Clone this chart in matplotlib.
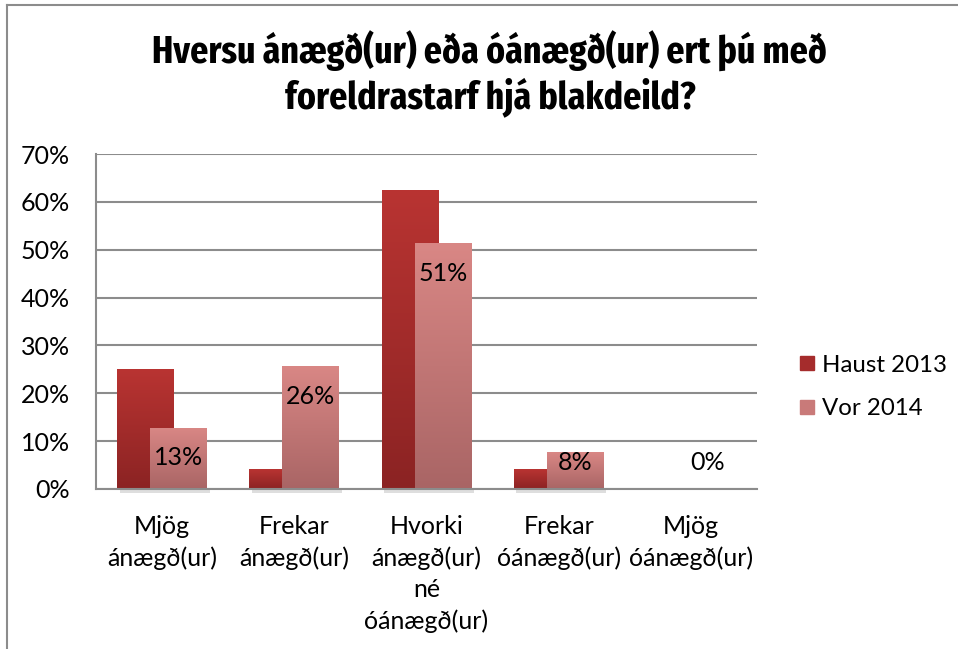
import matplotlib.pyplot as plt
import numpy as np
from matplotlib.colors import LinearSegmentedColormap
from matplotlib.lines import Line2D
from matplotlib import font_manager as fm

categories = ['Mjög\nánægð(ur)', 'Frekar\nánægð(ur)', 'Hvorki\nánægð(ur)\nné\nóánægð(ur)',
              'Frekar\nóánægð(ur)', 'Mjög\nóánægð(ur)']
haust_2013 = [25.0, 4.17, 62.5, 4.17, 0.0]
vor_2014 = [12.8, 25.6, 51.3, 7.7, 0.0]
vor_labels = ['13%', '26%', '51%', '8%', '0%']
series_names = ['Haust 2013', 'Vor 2014']
yticks = [0, 10, 20, 30, 40, 50, 60, 70]

title = 'Hversu ánægð(ur) eða óánægð(ur) ert þú með\nforeldrastarf hjá blakdeild?'

plt.rcParams['font.family'] = ['Lato', 'DejaVu Sans']


def pick_condensed_bold():
    # look for a narrow bold face, the title in the original is very condensed
    best, best_rank = None, 99
    for f in fm.fontManager.ttflist:
        fn = f.fname.replace(' ', '')
        w = f.weight if isinstance(f.weight, int) else 700 if 'bold' in str(f.weight) else 400
        if w < 600 or 'Italic' in fn or 'Mono' in fn or 'Serif' in fn:
            continue
        if 'ExtraCondensedBold' in fn or 'ExtraCondensed-Bold' in fn:
            rank = 0
        elif 'SemiCondensed' in fn:
            rank = 3
        elif 'Condensed' in fn or 'Narrow' in fn or f.stretch == 'condensed':
            rank = 1 if 'Bold' in fn and 'ExtraBold' not in fn and 'SemiBold' not in fn else 2
        else:
            continue
        if rank < best_rank:
            best, best_rank = f.fname, rank
    if best:
        return fm.FontProperties(fname=best)
    return fm.FontProperties(family='DejaVu Sans', weight='bold')


fig = plt.figure(figsize=(9.58, 6.49), dpi=100)
# outer chart border (only top and left visible in the crop)
fig.add_artist(Line2D([7/958, 7/958], [0, 1 - 5/649], transform=fig.transFigure, color='#8c8c8c', lw=1.5))
fig.add_artist(Line2D([7/958, 1], [1 - 5/649, 1 - 5/649], transform=fig.transFigure, color='#8c8c8c', lw=1.5))

ax = fig.add_axes([96/958, 1 - 489/649, (757 - 96)/958, (489 - 154)/649])

x = np.arange(len(categories))
w = 0.43
off = 0.125

haust_cmap = LinearSegmentedColormap.from_list('h', ['#8b2323', '#b93432'])
vor_cmap = LinearSegmentedColormap.from_list('v', ['#a96565', '#d98785'])


def grad_bars(xs, vals, cmap, base, z):
    bars = ax.bar(xs, vals, w, color=base, zorder=z, linewidth=0)
    grad = np.linspace(0, 1, 256).reshape(-1, 1)
    for b in bars:
        if b.get_height() <= 0:
            continue
        x0, h = b.get_x(), b.get_height()
        # soft shadow under the bar
        ax.fill_between([x0 + 0.02, x0 + b.get_width() + 0.02], -0.9, 0, color='#dedede',
                        zorder=z - 0.5, lw=0, clip_on=False)
        im = ax.imshow(grad, extent=[x0, x0 + b.get_width(), 0, h], origin='lower',
                       cmap=cmap, aspect='auto', zorder=z + 0.1)
        im.set_clip_path(b)
    return bars


grad_bars(x - off, haust_2013, haust_cmap, '#a52c2c', 3)
grad_bars(x + off, vor_2014, vor_cmap, '#c47574', 4)

for xi, v, lab in zip(x + off, vor_2014, vor_labels):
    ax.text(xi, max(v - 6.3, 5.6), lab, ha='center', va='center', fontsize=18, color='black', zorder=6)

ax.set_xlim(-0.5, len(categories) - 0.5)
ax.set_ylim(0, 70)
ax.set_yticks(yticks)
ax.set_yticklabels([f'{t}%' for t in yticks], fontsize=18)
ax.set_xticks(x)
ax.set_xticklabels(categories, fontsize=18, linespacing=1.42, va='top')
ax.tick_params(axis='y', length=0, pad=19)
ax.tick_params(axis='x', length=0, pad=19)
ax.yaxis.grid(True, color='#8c8c8c', lw=1.5, zorder=1)
ax.set_axisbelow(True)
for s in ['top', 'right']:
    ax.spines[s].set_visible(False)
for s in ['left', 'bottom']:
    ax.spines[s].set_color('#8c8c8c')
    ax.spines[s].set_linewidth(1.5)
    ax.spines[s].set_zorder(5)

# legend
h1 = plt.Rectangle((0, 0), 1, 1, color='#a52c2c')
h2 = plt.Rectangle((0, 0), 1, 1, color='#c97a79')
fig.legend([h1, h2], series_names, loc='center left', bbox_to_anchor=(800/958, 1 - 387/649),
           frameon=False, fontsize=17.3, handlelength=0.57, handleheight=0.57,
           handletextpad=0.36, labelspacing=0.95, borderpad=0, borderaxespad=0)

# title: fit the condensed face to the width of the original title
tfp = pick_condensed_bold()
tfp.set_size(32)
t = fig.text(490/958, 1 - 74/649, title, ha='center', va='center',
             fontproperties=tfp, linespacing=1.17)
fig.canvas.draw()
tw = t.get_window_extent().width
fs = min(44, 32 * 674 / tw)
tfp.set_size(fs)
t.set_fontproperties(tfp)

fig.savefig('out.png', dpi=100)
